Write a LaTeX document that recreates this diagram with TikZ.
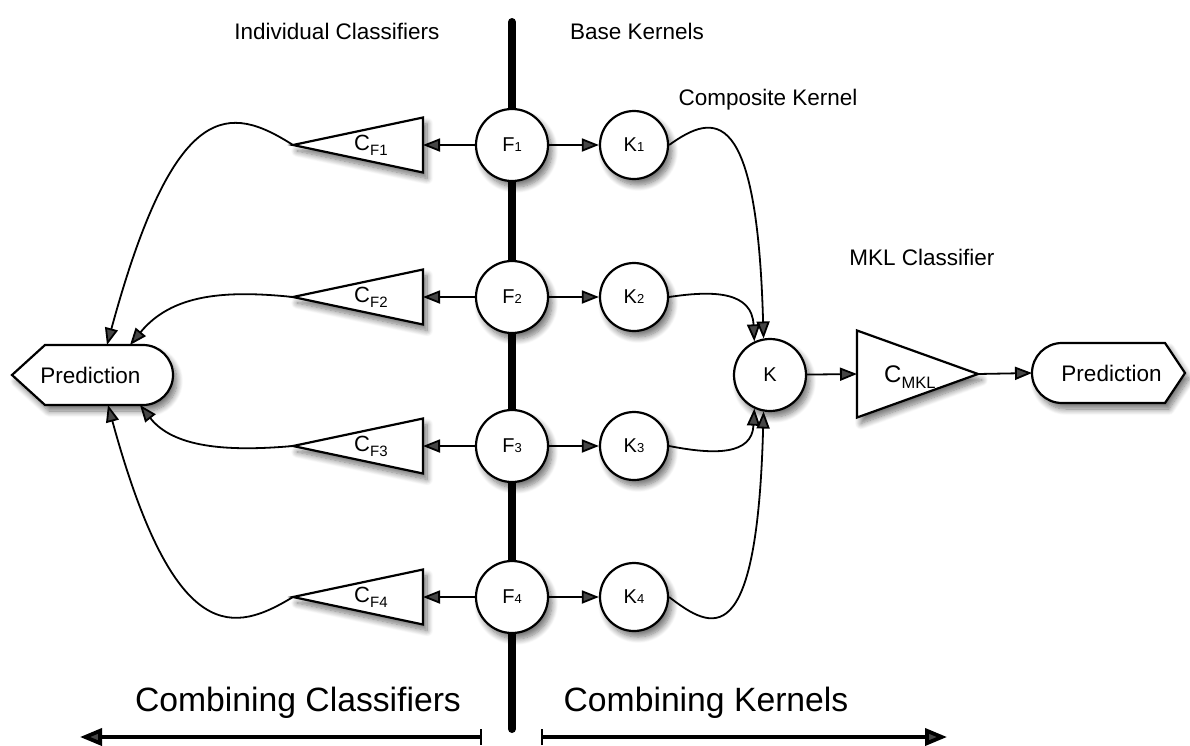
\documentclass[tikz,border=0pt]{standalone}
\usepackage{fontspec}
\setmainfont{Liberation Sans}
\usetikzlibrary{arrows.meta,shadows,shadows.blur}
\begin{document}
\begin{tikzpicture}[x=1pt,y=-1pt,
  conn/.style={line width=1.8pt, -{Triangle[length=17pt,width=13pt]}},
  shad/.style={blur shadow={shadow xshift=4pt, shadow yshift=-6pt, shadow blur radius=6pt, shadow blur steps=10, shadow opacity=55}},
  circ/.style={circle, draw, line width=2.2pt, fill=white, inner sep=0pt, shad,
    font=\fontsize{20}{22}\selectfont},
  fnode/.style={circ, minimum size=72pt},
  knode/.style={circ, minimum size=68pt},
  ghost/.style={rectangle, inner sep=0pt, outer sep=0pt},
  shp/.style={draw, line width=2.2pt, fill=white, line join=miter, shad},
  lab/.style={font=\fontsize{22.5}{26}\selectfont, inner sep=0pt},
  big/.style={font=\fontsize{33.7}{38}\selectfont, inner sep=0pt},
  sub/.style={font=\fontsize{22}{24}\selectfont, inner sep=0pt, anchor=base west},
  bigarrow/.style={line width=3.8pt, {Bar[width=16pt,line width=1.8pt]}-{Triangle[length=22pt,width=17pt]}}
]
\useasboundingbox (0,0) rectangle (1190,745);

% spine
\coordinate (vtop) at (512,22);
\coordinate (vbot) at (512,729);
\draw[line width=8pt, line cap=round] (vtop) -- (vbot);

% top labels
\node[lab] (lic) at (337,31) {Individual Classifiers};
\node[lab] (lbk) at (637,31) {Base Kernels};
\node[lab] (lck) at (768,100) {Composite Kernel};
\node[lab] (lmkl) at (922,257) {MKL Classifier};

% feature, kernel nodes and individual classifiers
\foreach \i/\y in {1/145,2/297,3/446,4/597} {
  \node[fnode] (f\i) at (512,\y) {F{\fontsize{13}{13}\selectfont\i}};
  \node[knode] (k\i) at (634,\y) {K{\fontsize{13}{13}\selectfont\i}};
  \node[ghost, minimum width=130pt, minimum height=55pt] (cf\i) at (358,\y) {};
  \draw[shp] (cf\i.west) -- (cf\i.north east) -- (cf\i.south east) -- cycle;
  \node[sub] (cft\i) at (354,\y+5) {C\raisebox{-5pt}{\fontsize{15}{15}\selectfont F\i}};
  \draw[conn] (f\i) -- (cf\i.east);
  \draw[conn] (f\i) -- (k\i);
}

% left prediction
\node[ghost, minimum width=161pt, minimum height=60pt] (predL) at (92.5,375) {};
\draw[shp] (12,375) -- (45,345) -- (143,345) arc[start angle=-90, end angle=90, radius=30] -- (45,405) -- cycle;
\node[lab] (predLt) at ([xshift=-2pt]predL.center) {Prediction};

% composite kernel, MKL classifier, right prediction
\node[circ, minimum size=72pt] (k) at (770,375) {K};
\node[ghost, minimum width=121pt, minimum height=87pt] (cmk) at (917.5,374) {};
\draw[shp] (cmk.north west) -- (cmk.east) -- (cmk.south west) -- cycle;
\node[sub, font=\fontsize{24}{26}\selectfont] (cmkt) at (884,382) {C\raisebox{-6pt}{\fontsize{16.5}{17}\selectfont MKL}};
\node[ghost, minimum width=153pt, minimum height=60pt] (predR) at (1108.5,373) {};
\draw[shp] (1062,343) -- (1165,343) -- (1185,373) -- (1165,403) -- (1062,403) arc[start angle=90, end angle=270, radius=30] -- cycle;
\node[lab] (predRt) at ([xshift=3pt]predR.center) {Prediction};

\draw[conn] (k) -- (cmk.west);
\draw[conn] (cmk.east) -- (predR.west);

% classifier outputs to prediction
\draw[conn] (cf1.west) .. controls (230,105) and (175,95) .. ([xshift=14.5pt]predL.north);
\draw[conn] (cf2.west) .. controls (225,290) and (172,294) .. ([xshift=37.5pt]predL.north);
\draw[conn] (cf3.west) .. controls (225,452) and (173,447) .. ([xshift=47.5pt]predL.south);
\draw[conn] (cf4.west) .. controls (235,632) and (175,650) .. ([xshift=15.5pt]predL.south);

% kernels to composite kernel
\draw[conn] (k1.east) .. controls (715,112) and (757,105) .. (k.100);
\draw[conn] (k2.east) .. controls (715,290) and (752,292) .. (k.115);
\draw[conn] (k3.east) .. controls (715,455) and (752,455) .. (k.-115);
\draw[conn] (k4.east) .. controls (712,630) and (757,655) .. (k.-100);

% bottom
\node[big] (bcc) at (298,703) {Combining Classifiers};
\node[big] (bck) at (706,703) {Combining Kernels};
\coordinate (la) at (482,737);
\coordinate (lb) at (80,737);
\coordinate (ra) at (541,737);
\coordinate (rb) at (947,737);
\draw[bigarrow] (la) -- (lb);
\draw[bigarrow] (ra) -- (rb);
\end{tikzpicture}
\end{document}
